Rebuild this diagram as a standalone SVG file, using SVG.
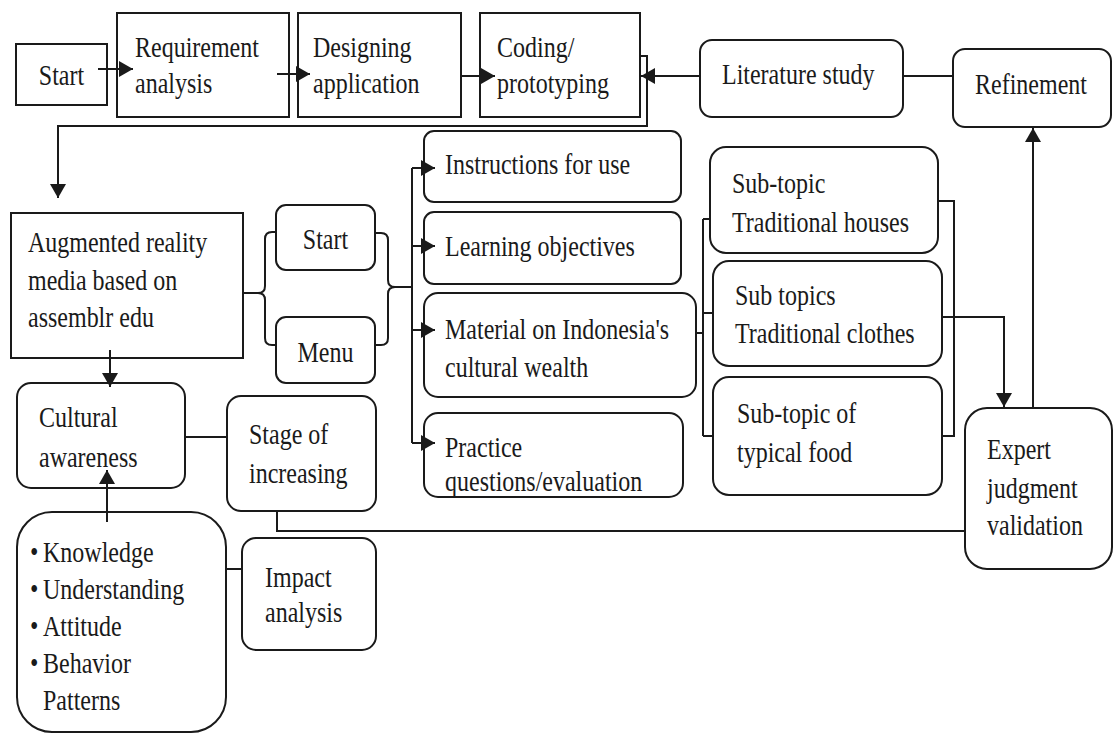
<svg xmlns="http://www.w3.org/2000/svg" width="1113" height="733" viewBox="0 0 1113 733">
<style>
.b{fill:#fff;stroke:#1a1a1a;stroke-width:2}
.c{fill:none;stroke:#1a1a1a;stroke-width:2}
text{font-size:30px;fill:#1a1a1a}
.m{text-anchor:middle}
</style>
<defs>
<marker id="ah" markerUnits="userSpaceOnUse" markerWidth="16" markerHeight="18" refX="14" refY="9" orient="auto">
<path d="M0,1 L14,9 L0,17 Z" fill="#1a1a1a"/>
</marker>
</defs>
<rect width="1113" height="733" fill="#fff"/>

<g id="connectors">
<path class="c" d="M98,69 H133" marker-end="url(#ah)"/>
<path class="c" d="M277,74 H310" marker-end="url(#ah)"/>
<path class="c" d="M461,76 H495" marker-end="url(#ah)"/>
<path class="c" d="M700,76 H641" marker-end="url(#ah)"/>
<path class="c" d="M639,56 H647 V126 H58 V198" marker-end="url(#ah)"/>
<path class="c" d="M903,76 H953"/>
<path class="c" d="M1033,408 V128" marker-end="url(#ah)"/>
<path class="c" d="M276,232 H272 Q265,232 265,239 V286 Q265,293 258,293 H243 M258,293 Q265,293 265,300 V338 Q265,345 272,345 H276"/>
<path class="c" d="M375,233 H381 Q388,233 388,240 V280 Q388,287 395,287 H412 M395,287 Q388,287 388,294 V338 Q388,345 381,345 H375"/>
<path class="c" d="M412,168 V443"/>
<path class="c" d="M412,168 H435" marker-end="url(#ah)"/>
<path class="c" d="M412,246 H435" marker-end="url(#ah)"/>
<path class="c" d="M412,330 H435" marker-end="url(#ah)"/>
<path class="c" d="M412,443 H435" marker-end="url(#ah)"/>
<path class="c" d="M696,333 H703 M703,219 V436 M703,219 H710 M703,313 H713 M703,436 H713"/>
<path class="c" d="M938,201 H954 V436 H942"/>
<path class="c" d="M942,317 H1004 V407" marker-end="url(#ah)"/>
<path class="c" d="M965,531 H277 V512"/>
<path class="c" d="M110,350 V387" marker-end="url(#ah)"/>
<path class="c" d="M185,437 H227"/>
<path class="c" d="M107,522 V470" marker-end="url(#ah)"/>
<path class="c" d="M226,569 H258" marker-end="url(#ah)"/>
</g>

<g font-family="Liberation Serif, Tinos, Times New Roman, Noto Serif, FreeSerif, DejaVu Serif, serif">
<g id="start-top">
<rect class="b" x="16" y="44" width="91" height="61" fill-opacity="0"/>
<text class="m" transform="scale(0.8,1)" x="76.9" y="85">Start</text>
</g>
<g id="requirement">
<rect class="b" x="117" y="13" width="172" height="104" fill-opacity="0"/>
<text transform="scale(0.8,1)" x="168.75" y="57">Requirement</text>
<text transform="scale(0.8,1)" x="168.75" y="93">analysis</text>
</g>
<g id="designing">
<rect class="b" x="298" y="13" width="163" height="104" fill-opacity="0"/>
<text transform="scale(0.8,1)" x="391.25" y="57">Designing</text>
<text transform="scale(0.8,1)" x="391.25" y="93">application</text>
</g>
<g id="coding">
<rect class="b" x="480" y="13" width="160" height="104" fill-opacity="0"/>
<text transform="scale(0.8,1)" x="621.25" y="57">Coding/</text>
<text transform="scale(0.8,1)" x="621.25" y="93">prototyping</text>
</g>
<g id="literature">
<rect class="b" x="700" y="40" width="203" height="77" rx="12"/>
<text transform="scale(0.8,1)" x="902.5" y="84">Literature study</text>
</g>
<g id="refinement">
<rect class="b" x="953" y="49" width="158" height="78" rx="12"/>
<text class="m" transform="scale(0.8,1)" x="1288.75" y="94">Refinement</text>
</g>
<g id="augmented">
<rect class="b" x="11" y="213" width="232" height="145" fill-opacity="0"/>
<text transform="scale(0.8,1)" x="35" y="252">Augmented reality</text>
<text transform="scale(0.8,1)" x="35" y="290">media based on</text>
<text transform="scale(0.8,1)" x="35" y="327">assemblr edu</text>
</g>
<g id="start-menu">
<rect class="b" x="276" y="205" width="99" height="65" rx="10"/>
<text class="m" transform="scale(0.8,1)" x="406.9" y="249">Start</text>
</g>
<g id="menu">
<rect class="b" x="276" y="317" width="99" height="66" rx="10"/>
<text class="m" transform="scale(0.8,1)" x="406.9" y="362">Menu</text>
</g>
<g id="instructions">
<rect class="b" x="424" y="131" width="257" height="71" rx="10" fill-opacity="0"/>
<text transform="scale(0.8,1)" x="556.25" y="174">Instructions for use</text>
</g>
<g id="learning">
<rect class="b" x="424" y="212" width="257" height="72" rx="10" fill-opacity="0"/>
<text transform="scale(0.8,1)" x="556.25" y="256">Learning objectives</text>
</g>
<g id="material">
<rect class="b" x="424" y="293" width="272" height="104" rx="14" fill-opacity="0"/>
<text transform="scale(0.8,1)" x="556.25" y="339">Material on Indonesia's</text>
<text transform="scale(0.8,1)" x="556.25" y="377">cultural wealth</text>
</g>
<g id="practice">
<rect class="b" x="424" y="413" width="259" height="84" rx="14" fill-opacity="0"/>
<text transform="scale(0.8,1)" x="556.25" y="457">Practice</text>
<text transform="scale(0.8,1)" x="556.25" y="491">questions/evaluation</text>
</g>
<g id="sub-houses">
<rect class="b" x="710" y="147" width="228" height="106" rx="16"/>
<text transform="scale(0.8,1)" x="915" y="193">Sub-topic</text>
<text transform="scale(0.8,1)" x="915" y="232">Traditional houses</text>
</g>
<g id="sub-clothes">
<rect class="b" x="713" y="261" width="229" height="105" rx="16"/>
<text transform="scale(0.8,1)" x="918.75" y="305">Sub topics</text>
<text transform="scale(0.8,1)" x="918.75" y="343">Traditional clothes</text>
</g>
<g id="sub-food">
<rect class="b" x="713" y="377" width="229" height="118" rx="16"/>
<text transform="scale(0.8,1)" x="921.25" y="423">Sub-topic of</text>
<text transform="scale(0.8,1)" x="921.25" y="462">typical food</text>
</g>
<g id="expert">
<rect class="b" x="965" y="408" width="147" height="161" rx="22"/>
<text transform="scale(0.8,1)" x="1233.75" y="459">Expert</text>
<text transform="scale(0.8,1)" x="1233.75" y="498">judgment</text>
<text transform="scale(0.8,1)" x="1233.75" y="535">validation</text>
</g>
<g id="cultural">
<rect class="b" x="17" y="383" width="168" height="105" rx="14" fill-opacity="0"/>
<text transform="scale(0.8,1)" x="48.75" y="427">Cultural</text>
<text transform="scale(0.8,1)" x="48.75" y="467">awareness</text>
</g>
<g id="stage">
<rect class="b" x="227" y="396" width="149" height="115" rx="14"/>
<text transform="scale(0.8,1)" x="311.25" y="444">Stage of</text>
<text transform="scale(0.8,1)" x="311.25" y="483">increasing</text>
</g>
<g id="indicators">
<rect class="b" x="17" y="512" width="209" height="220" rx="35" fill-opacity="0"/>
<text transform="scale(0.8,1)" x="37.5" y="562">•</text>
<text transform="scale(0.8,1)" x="53.75" y="562">Knowledge</text>
<text transform="scale(0.8,1)" x="37.5" y="599">•</text>
<text transform="scale(0.8,1)" x="53.75" y="599">Understanding</text>
<text transform="scale(0.8,1)" x="37.5" y="636">•</text>
<text transform="scale(0.8,1)" x="53.75" y="636">Attitude</text>
<text transform="scale(0.8,1)" x="37.5" y="673">•</text>
<text transform="scale(0.8,1)" x="53.75" y="673">Behavior</text>
<text transform="scale(0.8,1)" x="53.75" y="710">Patterns</text>
</g>
<g id="impact">
<rect class="b" x="242" y="538" width="134" height="112" rx="14"/>
<text transform="scale(0.8,1)" x="331.25" y="587">Impact</text>
<text transform="scale(0.8,1)" x="331.25" y="622">analysis</text>
</g>
</g>
</svg>
